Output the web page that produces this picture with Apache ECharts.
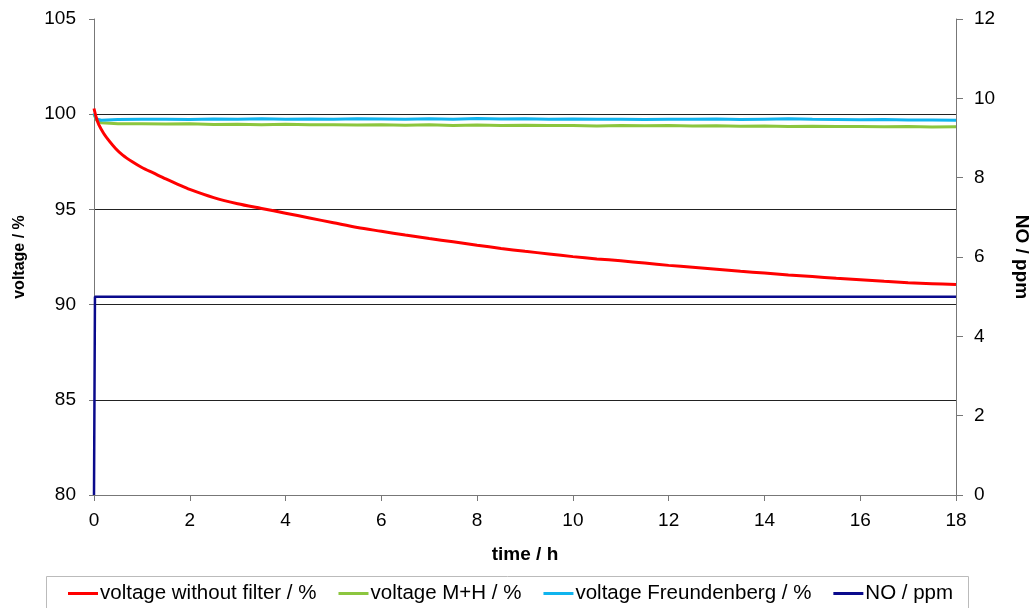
<!DOCTYPE html>
<html>
<head>
<meta charset="utf-8">
<script src="https://cdn.jsdelivr.net/npm/echarts@6/dist/echarts.min.js"></script>
<style>html,body{margin:0;padding:0;background:#fff}#c{width:1032px;height:608px}</style>
</head>
<body>
<div id="c"></div>
<script>
// time axis (h)
const redTime = [0,0.05,0.1,0.2,0.3,0.45,0.6,0.8,1.0,1.25,1.5,1.75,2.0,2.5,3.0,3.5,4,4.5,5,5.5,6,6.5,7,7.5,8,8.5,9,9.5,10,10.5,11,11.5,12,12.5,13,13.5,14,14.5,15,15.5,16,16.5,17,17.5,18];
const redValues = [100.3,99.8,99.45,99.0,98.65,98.2,97.85,97.5,97.2,96.9,96.6,96.32,96.05,95.62,95.3,95.05,94.8,94.55,94.3,94.05,93.85,93.65,93.47,93.3,93.12,92.95,92.8,92.66,92.52,92.4,92.3,92.18,92.06,91.96,91.86,91.75,91.66,91.56,91.47,91.38,91.3,91.22,91.15,91.1,91.05];

const vTime = [0,0.05,0.15,0.5,1,1.5,2,2.5,3,3.5,4,4.5,5,5.5,6,6.5,7,7.5,8,8.5,9,9.5,10,10.5,11,11.5,12,12.5,13,13.5,14,14.5,15,15.5,16,16.5,17,17.5,18];
const greenValues = [100.0,99.7,99.55,99.5,99.5,99.48,99.5,99.46,99.47,99.45,99.47,99.44,99.45,99.43,99.45,99.42,99.44,99.41,99.43,99.4,99.42,99.4,99.41,99.38,99.4,99.39,99.41,99.38,99.39,99.37,99.38,99.36,99.37,99.35,99.36,99.34,99.35,99.33,99.34];
const blueValues = [100.05,99.75,99.68,99.72,99.73,99.74,99.72,99.75,99.74,99.76,99.74,99.75,99.73,99.76,99.75,99.74,99.76,99.74,99.77,99.75,99.76,99.74,99.75,99.73,99.74,99.72,99.74,99.73,99.75,99.72,99.74,99.76,99.73,99.72,99.71,99.72,99.7,99.69,99.68];

const noTime = [0,0.01,0.02,18];
const noValues = [0,0,5,5];

const seriesNames = ['voltage without filter / %','voltage M+H / %','voltage Freundenberg / %','NO / ppm'];
const colors = ['#FF0000','#8CC63F','#10B4EE','#0A0A8C'];

const zip = (a,b)=>a.map((t,i)=>[t,b[i]]);
const chart = echarts.init(document.getElementById('c'));
const font = 'Liberation Sans, Arial, sans-serif';
chart.setOption({
  animation:false,
  color: colors,
  grid:{left:94,right:76,top:19,bottom:113,containLabel:false,outerBoundsMode:'none'},
  xAxis:{type:'value',min:0,max:18,interval:2,
    name:'time / h',nameLocation:'middle',nameGap:50,
    nameTextStyle:{fontFamily:font,fontWeight:'bold',fontSize:19,color:'#000'},
    axisLine:{lineStyle:{color:'#777',width:1}},
    axisTick:{show:true,length:6,lineStyle:{color:'#777'}},
    axisLabel:{fontFamily:font,fontSize:19,color:'#000',margin:16},
    splitLine:{show:false}},
  yAxis:[{type:'value',min:80,max:105,interval:5,
    name:'voltage / %',nameLocation:'middle',nameGap:66,nameRotate:90,
    nameTextStyle:{fontFamily:font,fontWeight:'bold',fontSize:16,color:'#000'},
    axisLine:{show:true,lineStyle:{color:'#777'}},
    axisTick:{show:true,length:5,lineStyle:{color:'#777'}},
    axisLabel:{fontFamily:font,fontSize:19,color:'#000',margin:18},
    splitLine:{show:true,showMaxLine:false,showMinLine:false,lineStyle:{color:'#222',width:1}}},
   {type:'value',min:0,max:12,interval:2,position:'right',
    name:'NO / ppm',nameLocation:'middle',nameGap:56,nameRotate:-90,
    nameTextStyle:{fontFamily:font,fontWeight:'bold',fontSize:19,color:'#000'},
    axisLine:{show:true,lineStyle:{color:'#777'}},
    axisTick:{show:true,length:7,lineStyle:{color:'#777'}},
    axisLabel:{fontFamily:font,fontSize:19,color:'#000',margin:18},
    splitLine:{show:false}}],
  legend:{left:63,top:578,itemWidth:30,itemHeight:3,itemGap:22,icon:'rect',
    textStyle:{fontFamily:font,fontSize:20.5,color:'#000',padding:[0,0,0,-3]},
    data:seriesNames},
  graphic:[{type:'rect',shape:{x:46.5,y:576.5,width:922,height:40},style:{fill:'none',stroke:'#bbb',lineWidth:1},z:-1}],
  series:[
    {name:seriesNames[0],type:'line',yAxisIndex:0,data:zip(redTime,redValues),showSymbol:false,smooth:0.3,lineStyle:{width:3,color:colors[0]},z:4},
    {name:seriesNames[1],type:'line',yAxisIndex:0,data:zip(vTime,greenValues),showSymbol:false,lineStyle:{width:3,color:colors[1]},z:3},
    {name:seriesNames[2],type:'line',yAxisIndex:0,data:zip(vTime,blueValues),showSymbol:false,lineStyle:{width:3,color:colors[2]},z:3},
    {name:seriesNames[3],type:'line',yAxisIndex:1,data:zip(noTime,noValues),showSymbol:false,lineStyle:{width:2.5,color:colors[3]},z:5}
  ]
});
</script>
</body>
</html>
